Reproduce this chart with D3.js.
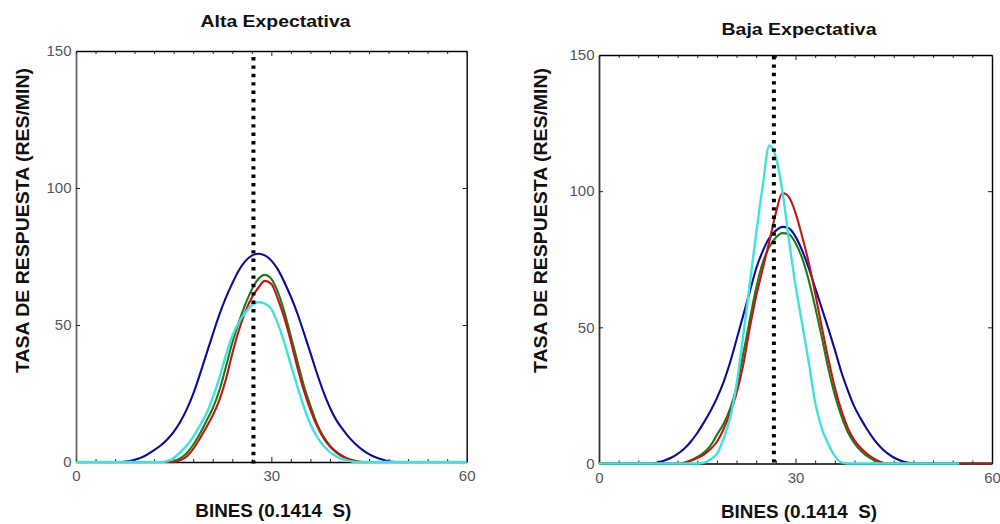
<!DOCTYPE html>
<html>
<head>
<meta charset="utf-8">
<script src="https://cdn.jsdelivr.net/npm/d3@7"></script>
<style>
  html, body { margin: 0; padding: 0; background: #fff; }
  svg { display: block; }
  text { font-family: "Liberation Sans", Arial, sans-serif; }
</style>
</head>
<body>
<svg id="chart" width="1000" height="524"></svg>
<script>
// Response rate per bin (0..60), four groups per condition
const bins = d3.range(0, 61);

// Alta Expectativa
const altaAzul = [0,0,0,0,0,0,0,0,
  0.3,0.8,1.6,2.8,4.3,6.0,8.2,11.0,
  14.6,19.2,24.9,31.8,39.2,46.6,53.7,59.9,
  65.2,69.9,73.3,75.3,76.0,75.4,73.5,70.3,
  65.6,60.3,54.2,47.1,39.8,32.4,25.6,19.8,
  15.2,11.8,8.8,6.4,4.4,2.9,1.7,0.9,
  0.3,0,0,0,0,0,0,0,
  0,0,0,0,0];
const altaVerde = [0,0,0,0,0,0,0,0,
  0,0,0,0,0,0,0,0.3,
  1.3,3.2,6.3,10.2,14.8,19.6,26.0,34.5,
  43.5,51.0,57.5,63.0,66.8,68.3,66.8,62.0,
  54.8,45.8,36.8,27.8,20.5,14.0,9.3,6.0,
  3.7,2.1,1.0,0.4,0,0,0,0,
  0,0,0,0,0,0,0,0,
  0,0,0,0,0];
const altaRojo = [0,0,0,0,0,0,0,0,
  0,0,0,0,0,0,0,0,
  0.6,2.0,4.8,8.5,12.6,17.0,22.5,30.0,
  39.5,48.0,54.8,60.0,63.6,66.1,65.0,59.5,
  52.5,44.0,34.5,26.0,19.0,13.2,8.8,5.6,
  3.4,1.9,0.9,0.3,0,0,0,0,
  0,0,0,0,0,0,0,0,
  0,0,0,0,0];
const altaCian = [0,0,0,0,0,0,0,0,
  0,0,0,0,0,0,0.3,1.5,
  3.5,6.0,9.2,13.2,17.5,23.5,30.5,38.8,
  46.0,51.0,54.5,57.2,58.3,57.8,55.8,50.5,
  43.5,35.5,27.5,20.0,13.8,9.3,6.0,3.6,
  2.0,1.0,0.4,0,0,0,0,0,
  0,0,0,0,0,0,0,0,
  0,0,0,0,0];

// Baja Expectativa
const bajaAzul = [0,0,0,0,0,0,0,0,
  0,0.4,1.1,2.1,3.5,5.4,8.0,11.2,
  15.0,19.2,24.0,29.8,37.0,45.5,54.2,62.9,
  71.6,78.0,82.8,85.5,86.9,86.4,83.3,78.3,
  71.9,64.5,57.1,49.6,41.8,33.6,26.8,20.8,
  16.3,12.3,8.8,6.0,3.8,2.2,1.1,0.4,
  0,0,0,0,0,0,0,0,
  0,0,0,0,0];
const bajaVerde = [0,0,0,0,0,0,0,0,
  0,0,0,0,0,0.3,1.1,2.4,
  4.0,6.5,10.5,14.5,20.0,28.2,40.0,52.5,
  64.5,73.8,79.5,83.0,84.6,84.2,81.0,75.5,
  67.5,57.5,46.5,35.0,25.2,17.5,11.5,7.5,
  4.6,2.6,1.2,0.4,0,0,0,0,
  0,0,0,0,0,0,0,0,
  0,0,0,0,0];
const bajaRojo = [0,0,0,0,0,0,0,0,
  0,0,0,0,0,0.3,1.0,2.0,
  3.3,5.2,8.0,12.5,18.5,25.8,36.0,49.5,
  61.5,71.5,81.5,92.0,99.3,97.8,92.0,83.5,
  74.0,62.5,50.3,38.5,28.0,19.5,13.0,8.5,
  5.6,3.4,1.8,0.6,0,0,0,0,
  0,0,0,0,0,0,0,0,
  0,0,0,0,0];
// recorded up to bin 55
const bajaCian = [0,0,0,0,0,0,0,0,
  0,0,0,0,0,0,0,0,
  0.3,1.5,3.5,9.0,16.5,29.0,46.5,65.5,
  84.5,102.0,116.8,112.5,100.0,82.0,65.5,51.5,
  37.5,22.5,13.0,7.2,2.8,0.4,0,0,
  0,0,0,0,0,0,0,0,
  0,0,0,0,0,0,0,0];

// Reference bin marked with the dotted line
const altaMarca = 27.25;
const bajaMarca = 26.7;

// Axis ticks
const yTicks = [0, 50, 100, 150];
const xTicks = d3.range(0, 61, 3);
const xTickLabels = [0, 30, 60];

const titles = ["Alta Expectativa", "Baja Expectativa"];
const xTitle = "BINES (0.1414  S)";
const yTitle = "TASA DE RESPUESTA (RES/MIN)";

const colors = { azul: "#0c0c9c", verde: "#1c7a1c", rojo: "#c41414", cian: "#3fe2df" };

const svg = d3.select("#chart");
svg.append("rect").attr("width", 1000).attr("height", 524).attr("fill", "#fff");

function drawPanel(cfg) {
  const x = d3.scaleLinear().domain([0, 60]).range(cfg.xr);
  const y = d3.scaleLinear().domain([0, 150]).range(cfg.yr);
  const g = svg.append("g");
  const [x0, x1] = cfg.xr, [y0, y1] = cfg.yr;

  // frame + inward ticks
  const left = g.append("g").attr("transform", `translate(${x0},0)`)
    .call(d3.axisLeft(y).tickValues(yTicks).tickSizeInner(-4).tickSizeOuter(0).tickPadding(4.5));
  const right = g.append("g").attr("transform", `translate(${x1},0)`)
    .call(d3.axisRight(y).tickValues(yTicks).tickSizeInner(-4).tickSizeOuter(0).tickFormat(""));
  const top = g.append("g").attr("transform", `translate(0,${y1})`)
    .call(d3.axisTop(x).tickValues(xTicks).tickSizeInner(-3).tickSizeOuter(0).tickFormat(""));
  const bottom = g.append("g").attr("transform", `translate(0,${y0})`)
    .call(d3.axisBottom(x).tickValues(xTicks).tickSizeInner(-3).tickSizeOuter(0).tickPadding(cfg.xPad)
      .tickFormat(d => xTickLabels.includes(d) ? d : ""));
  top.selectAll(".tick line").filter(d => d === 30).attr("y2", 5);
  bottom.selectAll(".tick line").filter(d => d === 30).attr("y2", -5);
  [left, right, top, bottom].forEach(a => {
    a.select(".domain").attr("stroke", "#000").attr("stroke-width", 1.4);
    a.selectAll(".tick line").attr("stroke", "#222").attr("stroke-width", 1);
    a.selectAll(".tick text").attr("fill", "#555").style("font-size", "15px")
      .style("font-family", '"Liberation Sans", Arial, sans-serif');
  });
  left.select(".domain").attr("stroke", cfg.leftAxisColor).attr("stroke-width", 1.8);

  // response curves
  const line = d3.line().x((d, i) => x(bins[i])).y(d => y(d)).curve(d3.curveMonotoneX);
  cfg.series.forEach(s => {
    g.append("path").datum(s.values).attr("d", line)
      .attr("fill", "none").attr("stroke", s.color).attr("stroke-width", s.w || 2.1)
      .attr("stroke-linejoin", "round");
  });

  // dotted reference bin
  g.append("line")
    .attr("x1", x(cfg.marca)).attr("x2", x(cfg.marca))
    .attr("y1", y1 + cfg.dotTop).attr("y2", y0 + cfg.dotBottom)
    .attr("stroke", "#000").attr("stroke-width", 4).attr("stroke-dasharray", "3.4 5");

  // titles
  g.append("text").attr("x", cfg.titleX).attr("y", cfg.titleY).attr("text-anchor", "middle")
    .attr("font-weight", "bold").style("font-size", "17px")
    .attr("textLength", cfg.titleLen).attr("lengthAdjust", "spacingAndGlyphs")
    .attr("fill", "#111").text(cfg.title);
  g.append("text").attr("x", cfg.xLabX).attr("y", cfg.xLabY).attr("text-anchor", "middle")
    .attr("font-weight", "bold").style("font-size", "18.5px")
    .attr("textLength", 156).attr("lengthAdjust", "spacingAndGlyphs")
    .attr("fill", "#111").style("white-space", "pre").text(xTitle);
  g.append("text").attr("transform", `translate(${cfg.yLabX},${cfg.yLabY}) rotate(-90)`)
    .attr("text-anchor", "middle").attr("font-weight", "bold").style("font-size", "19px")
    .attr("textLength", 305).attr("lengthAdjust", "spacingAndGlyphs")
    .attr("fill", "#111").text(yTitle);
}

drawPanel({
  xr: [76, 466.7], yr: [462, 51], xPad: 8.5, leftAxisColor: "#666",
  marca: altaMarca, dotTop: 6, dotBottom: 6,
  title: titles[0], titleX: 275.5, titleY: 26.5, titleLen: 150,
  xLabX: 273.3, xLabY: 517, yLabX: 29.3, yLabY: 220.5,
  series: [
    { values: altaAzul, color: colors.azul },
    { values: altaVerde, color: colors.verde },
    { values: altaRojo, color: colors.rojo },
    { values: altaCian, color: colors.cian, w: 2.4 }
  ]
});

drawPanel({
  xr: [599, 992], yr: [463.5, 55], xPad: 9, leftAxisColor: "#333",
  marca: bajaMarca, dotTop: 1, dotBottom: 1.5,
  title: titles[1], titleX: 799, titleY: 34.5, titleLen: 155,
  xLabX: 799, xLabY: 518, yLabX: 546.5, yLabY: 220.5,
  series: [
    { values: bajaAzul, color: colors.azul },
    { values: bajaVerde, color: colors.verde },
    { values: bajaRojo, color: colors.rojo },
    { values: bajaCian, color: colors.cian, w: 2.4 }
  ]
});
</script>
</body>
</html>
